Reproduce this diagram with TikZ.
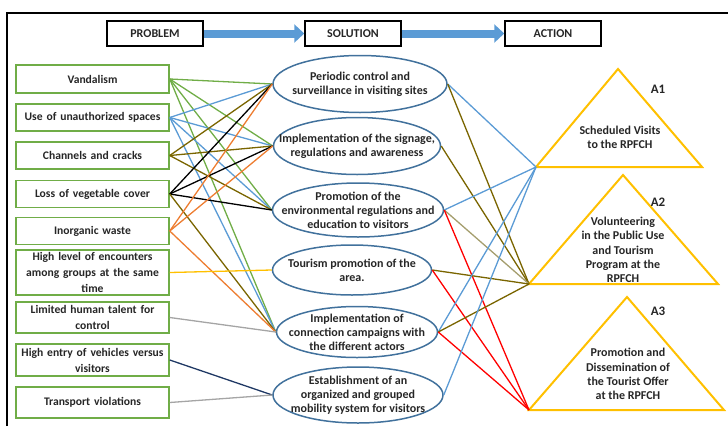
\documentclass[tikz,border=0pt]{standalone}
\usepackage{fontspec}
\setmainfont{Carlito}
\usetikzlibrary{shapes.geometric, arrows.meta, positioning, calc}
\usepackage{xcolor}
\definecolor{BoxGreen}{HTML}{70AD47}
\definecolor{EllBlue}{HTML}{41719C}
\definecolor{Flow}{HTML}{5B9BD5}
\definecolor{Gold}{HTML}{FFC000}
\definecolor{LBlue}{HTML}{5B9BD5}
\definecolor{LOlive}{HTML}{7A6500}
\definecolor{LOrange}{HTML}{ED7D31}
\definecolor{LGray}{HTML}{A5A5A5}
\definecolor{LNavy}{HTML}{1F3864}
\definecolor{LTan}{HTML}{A59E6E}
\definecolor{LRed}{HTML}{FF0000}
\definecolor{Ink}{HTML}{262626}

\begin{document}
\begin{tikzpicture}[
            x=1pt, y=-1pt,
            header/.style={
                rectangle,
                draw=black,
                line width=1.5pt,
                minimum width=96pt,
                minimum height=25pt,
                inner sep=0pt,
                text=Ink,
                font=\fontsize{12}{14}\selectfont\bfseries
            },
            flow/.style={line width=8pt, color=Flow, -{Triangle[length=10pt, width=18pt]}},
            problem/.style={
                rectangle,
                draw=BoxGreen,
                line width=1.5pt,
                minimum width=153pt,
                text width=152pt,
                align=center,
                inner sep=0pt,
                text=Ink,
                font=\fontsize{11.6}{16}\selectfont\bfseries
            },
            solution/.style={ellipse, draw=EllBlue, line width=1.5pt, inner sep=0pt},
            soltext/.style={align=center, inner sep=0pt, text=Ink, font=\fontsize{12}{14}\selectfont\bfseries},
            action/.style={draw=Gold, line width=2pt},
            acttext/.style={align=center, inner sep=0pt, text=Ink, font=\fontsize{12}{14.2}\selectfont\bfseries},
            tag/.style={inner sep=0pt, text=Ink, font=\fontsize{13}{15}\selectfont\bfseries},
            link/.style={line width=1.3pt}
        ]
            \useasboundingbox (0,0) rectangle (728,426);
            \draw[line width=2pt] (7,426) -- (7,13) -- (728,13);

            % Header row
            \node[header] (prob) at (155,33.5) {PROBLEM};
            \node[header] (sol) at (353,33.5) {SOLUTION};
            \node[header] (act) at (553,33.5) {ACTION};
            \draw[flow] (prob.east) -- (sol.west);
            \draw[flow] (sol.east) -- (act.west);

            % Problems
            \node[problem, minimum height=28pt] (p1) at (92.5,79) {Vandalism};
            \node[problem, minimum height=27pt] (p2) at (92.5,117.5) {Use of unauthorized spaces};
            \node[problem, minimum height=27pt] (p3) at (92.5,155.5) {Channels and cracks};
            \node[problem, minimum height=27pt] (p4) at (92.5,194) {Loss of vegetable cover};
            \node[problem, minimum height=27pt] (p5) at (92.5,231) {Inorganic waste};
            \node[problem, minimum height=45pt] (p6) at (92.5,272.5) {High level of encounters\\among groups at the same\\time};
            \node[problem, minimum height=31pt] (p7) at (92.5,317.5) {Limited human talent for\\control};
            \node[problem, minimum height=32pt] (p8) at (92.5,360) {High entry of vehicles versus\\visitors};
            \node[problem, minimum height=31pt] (p9) at (92.5,402.5) {Transport violations};

            % Solutions
            \node[solution, minimum width=174pt, minimum height=57pt,
                label={[soltext]center:Periodic control and\\surveillance in visiting sites}] (s1) at (360,84) {};
            \node[solution, minimum width=167pt, minimum height=57pt,
                label={[soltext]center:Implementation of the signage,\\regulations and awareness}] (s2) at (357,146) {};
            \node[solution, minimum width=171pt, minimum height=54pt,
                label={[soltext]center:Promotion of the\\environmental regulations and\\education to visitors}] (s3) at (358,210) {};
            \node[solution, minimum width=159pt, minimum height=50pt,
                label={[soltext]center:Tourism promotion of the\\area.}] (s4) at (352,270) {};
            \node[solution, minimum width=161pt, minimum height=51pt,
                label={[soltext]center:Implementation of\\connection campaigns with\\the different actors}] (s5) at (357,332) {};
            \node[solution, minimum width=170pt, minimum height=56pt,
                label={[soltext]center:Establishment of an\\organized and grouped\\mobility system for visitors}] (s6) at (358,395) {};

            % Actions
            \coordinate (a1) at (536,167);
            \coordinate (a1top) at (618,69);
            \coordinate (a1end) at (702,167);
            \coordinate (a2) at (529,284);
            \coordinate (a2top) at (623,175);
            \coordinate (a2end) at (718,284);
            \coordinate (a3) at (529,410);
            \coordinate (a3top) at (627,297);
            \coordinate (a3end) at (724,410);
            \draw[action] (a1) -- (a1top) -- (a1end) -- cycle;
            \draw[action] (a2) -- (a2top) -- (a2end) -- cycle;
            \draw[action] (a3) -- (a3top) -- (a3end) -- cycle;
            \node[acttext] (a1txt) at (620,137) {Scheduled Visits\\to the RPFCH};
            \node[acttext] (a2txt) at (623,250) {Volunteering\\in the Public Use\\and Tourism\\Program at the\\RPFCH};
            \node[acttext] (a3txt) at (628,374) {Promotion and\\Dissemination of\\the Tourist Offer\\at the RPFCH};
            \node[tag] (a1tag) at (658,89) {A1};
            \node[tag] (a2tag) at (658,202) {A2};
            \node[tag] (a3tag) at (658,311) {A3};

            % Problem to solution
            \draw[link, BoxGreen] (p1.east) -- (s1.west);
            \draw[link, BoxGreen] (p1.east) -- (s2.west);
            \draw[link, BoxGreen] (p1.east) -- (s3.west);
            \draw[link, BoxGreen] (p1.east) -- (s5.west);
            \draw[link, LBlue] (p2.east) -- (s1.west);
            \draw[link, LBlue] (p2.east) -- (s2.west);
            \draw[link, LBlue] (p2.east) -- (s3.west);
            \draw[link, LBlue] (p2.east) -- (s5.west);
            \draw[link, LOlive] (p3.east) -- (s1.west);
            \draw[link, LOlive] (p3.east) -- (s2.west);
            \draw[link, LOlive] (p3.east) -- (s3.west);
            \draw[link, black] (p4.east) -- (s1.west);
            \draw[link, black] (p4.east) -- (s2.west);
            \draw[link, black] (p4.east) -- (s3.west);
            \draw[link, LOlive] (p4.east) -- (s5.west);
            \draw[link, LOrange] (p5.east) -- (s1.west);
            \draw[link, LOrange] (p5.east) -- (s2.west);
            \draw[link, LOrange] (p5.east) -- (s5.west);
            \draw[link, Gold] (p6.east) -- (s4.west);
            \draw[link, LGray] (p7.east) -- (s5.west);
            \draw[link, LNavy] (p8.east) -- (s6.west);
            \draw[link, LGray] (p9.east) -- (s6.west);

            % Solution to action
            \draw[link, LBlue] (s1.east) -- (a1);
            \draw[link, LOlive] (s1.east) -- (a2);
            \draw[link, LOlive] (s2.east) -- (a2);
            \draw[link, LBlue] (s3.east) -- (a1);
            \draw[link, LTan] (s3.east) -- (a2);
            \draw[link, LRed] (s3.east) -- (a3);
            \draw[link, LOlive] (s4.east) -- (a2);
            \draw[link, LRed] (s4.east) -- (a3);
            \draw[link, LBlue] (s5.east) -- (a1);
            \draw[link, LOlive] (s5.east) -- (a2);
            \draw[link, LRed] (s5.east) -- (a3);
            \draw[link, LBlue] (s6.east) -- (a1);
        \end{tikzpicture}
\end{document}
